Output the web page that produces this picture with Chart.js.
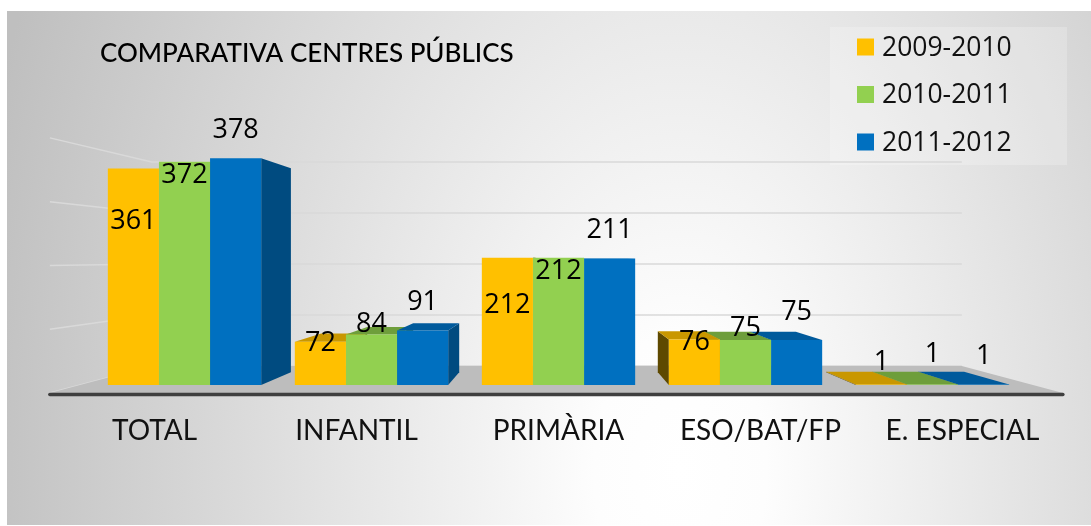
<!DOCTYPE html>
<html>
<head>
<meta charset="utf-8">
<title>Comparativa centres públics</title>
<script src="https://cdn.jsdelivr.net/npm/chart.js@4.4.0/dist/chart.umd.min.js"></script>
<style>
  html, body { margin: 0; padding: 0; background: #fff; }
  #chart { display: block; }
</style>
</head>
<body>
<canvas id="chart" width="1091" height="526"></canvas>
<script>
const chartTitle = 'COMPARATIVA CENTRES PÚBLICS';
const categories = ['TOTAL', 'INFANTIL', 'PRIMÀRIA', 'ESO/BAT/FP', 'E. ESPECIAL'];
const seriesLabels = ['2009-2010', '2010-2011', '2011-2012'];
const values0910 = [361, 72, 212, 76, 1];
const values1011 = [372, 84, 212, 75, 1];
const values1112 = [378, 91, 211, 75, 1];
const gridValues = [0, 100, 200, 300, 400];

const frontColors = ['#FFC000', '#92D050', '#0070C0'];
const topColors = ['#C99700', '#6E9E3B', '#005A9C'];
const sideColors = ['#5E4900', '#557A2C', '#004B80'];

// fake perspective: every point is pulled toward a vanishing point
const EYE_VALUE = 212;      // height of the eye, in data units
const BAR_DEPTH = 0.9;      // back face of the bars
const FLOOR_FRONT = 1.063;  // front edge of the floor
const WALL_BACK = 0.85;     // back wall / back edge of floor

function vanishingPoint(chart) {
    const area = chart.chartArea;
    return { x: (area.left + area.right) / 2, y: chart.scales.y.getPixelForValue(EYE_VALUE) };
}

function proj(vp, x, y, s) {
    return [vp.x + (x - vp.x) * s, vp.y + (y - vp.y) * s];
}

function fillPoly(ctx, pts, color) {
    ctx.beginPath();
    ctx.moveTo(pts[0][0], pts[0][1]);
    for (let i = 1; i < pts.length; i++) ctx.lineTo(pts[i][0], pts[i][1]);
    ctx.closePath();
    ctx.fillStyle = color;
    ctx.fill();
}

function labelOffset(ds, h) {
    // Excel put the labels a bit all over the place, roughly this
    if (ds === 0) return Math.max(-30, Math.min(53, h * 0.55 - 22));
    if (ds === 1) return Math.max(-30, Math.min(14, h * 0.4 - 30));
    return -28;
}

const pseudo3d = {
    id: 'pseudo3d',
    beforeDraw(chart) {
        const ctx = chart.ctx;
        ctx.save();
        ctx.fillStyle = '#ffffff';
        ctx.fillRect(0, 0, chart.width, chart.height);

        // grey panel with a soft light spot
        ctx.save();
        ctx.beginPath();
        ctx.rect(7, 11, 1084, 514);
        ctx.clip();
        ctx.setTransform(1, 0, 0, 1.6, 0, 0);
        const g = ctx.createRadialGradient(680, 470 / 1.6, 0, 680, 470 / 1.6, 720);
        g.addColorStop(0, '#ffffff');
        g.addColorStop(0.12, '#fdfdfd');
        g.addColorStop(1, '#bfbfbf');
        ctx.fillStyle = g;
        ctx.fillRect(0, 0, 1091, 526 / 1.6);
        ctx.restore();

        // legend panel
        ctx.fillStyle = 'rgba(255,255,255,0.22)';
        ctx.fillRect(830, 27, 237, 138);

        ctx.fillStyle = '#000';
        ctx.font = '500 26px Lato';
        ctx.textBaseline = 'alphabetic';
        ctx.textAlign = 'left';
        ctx.fillText(chartTitle, 100, 62);
        ctx.restore();
    },
    beforeDatasetsDraw(chart) {
        const ctx = chart.ctx;
        const area = chart.chartArea;
        const vp = vanishingPoint(chart);
        const y0 = chart.scales.y.getPixelForValue(0);
        const floorL = area.left - 11;
        const floorR = area.right + 7;
        ctx.save();

        // gridlines on left wall and back wall
        ctx.strokeStyle = '#d9d9d9';
        ctx.lineWidth = 1.5;
        gridValues.forEach(v => {
            const yy = chart.scales.y.getPixelForValue(v);
            const a = proj(vp, floorL, yy, FLOOR_FRONT);
            const b = proj(vp, floorL, yy, WALL_BACK);
            const c = proj(vp, floorR, yy, WALL_BACK);
            ctx.beginPath();
            ctx.moveTo(a[0], a[1]);
            ctx.lineTo(b[0], b[1]);
            ctx.lineTo(c[0], c[1]);
            ctx.stroke();
        });

        // floor
        const fl = proj(vp, floorL, y0, FLOOR_FRONT);
        const fr = proj(vp, floorR, y0, FLOOR_FRONT);
        const bl = proj(vp, floorL, y0, WALL_BACK);
        const br = proj(vp, floorR, y0, WALL_BACK);
        fillPoly(ctx, [bl, br, fr, fl], '#bdbdbd');
        ctx.strokeStyle = '#3f3f3f';
        ctx.lineWidth = 3.5;
        ctx.lineCap = 'round';
        ctx.beginPath();
        ctx.moveTo(fl[0], fl[1] + 1.5);
        ctx.lineTo(fr[0], fr[1] + 1.5);
        ctx.stroke();

        // top and side faces of the bars, far ones first
        const faces = [];
        chart.data.datasets.forEach((ds, i) => {
            chart.getDatasetMeta(i).data.forEach(bar => {
                const p = bar.getProps(['x', 'y', 'base', 'width'], true);
                faces.push({ i, p, dist: Math.abs(p.x - vp.x) });
            });
        });
        faces.sort((a, b) => b.dist - a.dist);
        faces.forEach(f => {
            const p = f.p;
            const left = p.x - p.width / 2;
            const right = p.x + p.width / 2;
            if (right < vp.x + 1) {
                fillPoly(ctx, [[right, p.y], proj(vp, right, p.y, BAR_DEPTH),
                    proj(vp, right, p.base, BAR_DEPTH), [right, p.base]], sideColors[f.i]);
            } else if (left > vp.x - 1) {
                fillPoly(ctx, [[left, p.y], proj(vp, left, p.y, BAR_DEPTH),
                    proj(vp, left, p.base, BAR_DEPTH), [left, p.base]], sideColors[f.i]);
            }
            if (p.y > vp.y) {
                fillPoly(ctx, [[left, p.y], [right, p.y], proj(vp, right, p.y, BAR_DEPTH),
                    proj(vp, left, p.y, BAR_DEPTH)], topColors[f.i]);
            }
        });
        ctx.restore();
    },
    afterDatasetsDraw(chart) {
        const ctx = chart.ctx;
        const vp = vanishingPoint(chart);
        ctx.save();
        ctx.fillStyle = '#000';
        ctx.textAlign = 'center';
        ctx.textBaseline = 'middle';

        // value labels
        ctx.font = '27px "Open Sans"';
        chart.data.datasets.forEach((ds, i) => {
            chart.getDatasetMeta(i).data.forEach((bar, j) => {
                const p = bar.getProps(['x', 'y', 'base'], true);
                const h = p.base - p.y;
                ctx.fillText(String(ds.data[j]), p.x, p.y + labelOffset(i, h));
            });
        });

        // category labels, pushed out along the floor front
        ctx.font = '28px Lato';
        ctx.fillStyle = '#111';
        const xs = chart.scales.x;
        categories.forEach((c, j) => {
            const cx = xs.getPixelForValue(j);
            ctx.fillText(c, vp.x + (cx - vp.x) * 1.08, 431);
        });

        // legend
        ctx.textAlign = 'left';
        ctx.font = '26.5px "Open Sans"';
        chart.data.datasets.forEach((ds, i) => {
            const cy = 47 + i * 47.5;
            ctx.fillStyle = frontColors[i];
            ctx.fillRect(857, cy - 8.5, 17, 17);
            ctx.fillStyle = '#111';
            ctx.fillText(ds.label, 882, cy + 1);
        });
        ctx.restore();
    }
};

const ctx = document.getElementById('chart').getContext('2d');
new Chart(ctx, {
    type: 'bar',
    data: {
        labels: categories,
        datasets: [values0910, values1011, values1112].map((vals, i) => ({
            label: seriesLabels[i],
            data: vals,
            backgroundColor: frontColors[i],
            borderWidth: 0,
            categoryPercentage: 0.82,
            barPercentage: 1.0
        }))
    },
    options: {
        responsive: false,
        animation: false,
        devicePixelRatio: 1,
        events: [],
        layout: { padding: { left: 91, right: 65, top: 115, bottom: 141 } },
        plugins: {
            legend: { display: false },
            tooltip: { enabled: false },
            title: { display: false }
        },
        scales: {
            x: { display: false },
            y: { display: false, min: 0, max: 450 }
        }
    },
    plugins: [pseudo3d]
});
</script>
</body>
</html>
